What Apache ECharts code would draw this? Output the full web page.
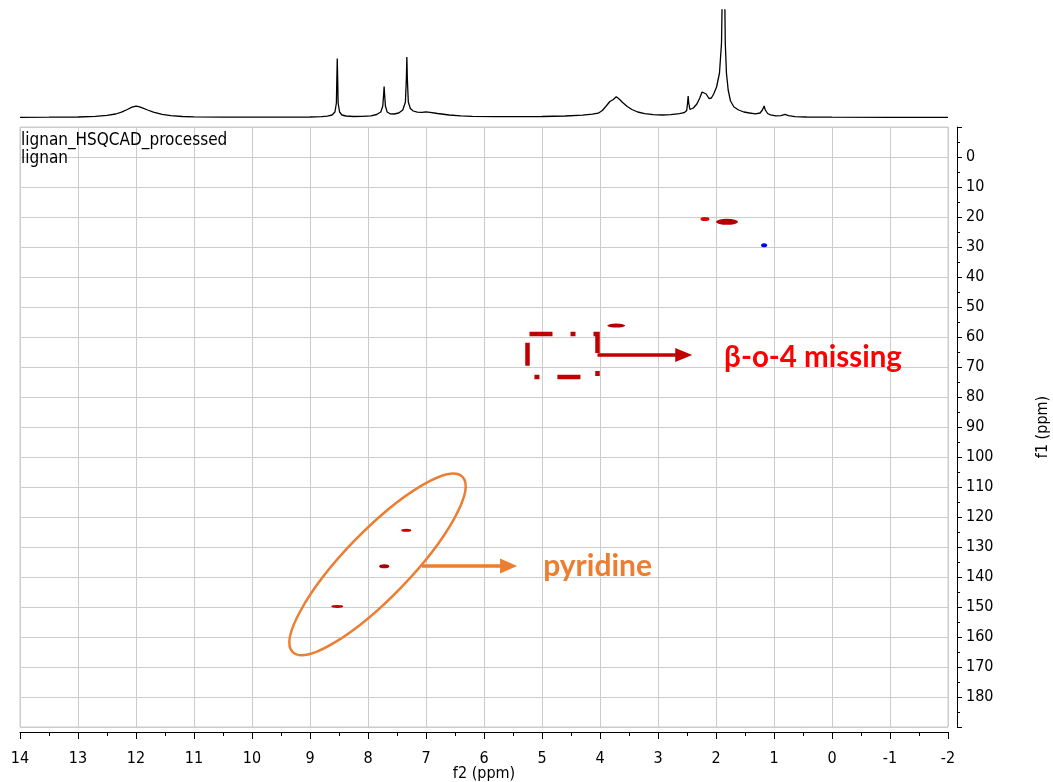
<!DOCTYPE html>
<html>
<head>
<meta charset="utf-8">
<script src="https://cdn.jsdelivr.net/npm/echarts@6/dist/echarts.min.js"></script>
<style>
  html, body { margin: 0; padding: 0; background: #ffffff; }
  #chart { width: 1053px; height: 782px; }
</style>
</head>
<body>
<div id="chart"></div>
<script>
// 1H projection along f2: chemical shift (ppm) and intensity above baseline
const protonPpm = [
  14.0, 13.5, 13.0, 12.7, 12.5, 12.35, 12.25, 12.15, 12.07, 12.0, 11.95, 11.88, 11.8, 11.7,
  11.55, 11.4, 11.2, 11.0, 10.5, 10.0, 9.5, 9.0, 8.8, 8.7, 8.62, 8.57, 8.545, 8.537, 8.53,
  8.523, 8.515, 8.49, 8.45, 8.38, 8.25, 8.1, 7.95, 7.85, 7.78, 7.745, 7.73, 7.722, 7.714,
  7.70, 7.67, 7.62, 7.55, 7.47, 7.40, 7.355, 7.338, 7.33, 7.322, 7.305, 7.27, 7.22, 7.15,
  7.07, 7.0, 6.93, 6.8, 6.6, 6.4, 6.2, 5.8, 5.3, 5.0, 4.6, 4.3, 4.13, 4.03, 3.96, 3.9,
  3.83, 3.8, 3.77, 3.72, 3.67, 3.61, 3.53, 3.45, 3.35, 3.23, 3.08, 2.93, 2.78, 2.63, 2.55,
  2.505, 2.49, 2.48, 2.47, 2.45, 2.39, 2.33, 2.28, 2.24, 2.21, 2.17, 2.12, 2.08, 2.04, 1.99,
  1.94, 1.905, 1.885, 1.87, 1.855, 1.84, 1.82, 1.79, 1.75, 1.69, 1.61, 1.52, 1.42, 1.32,
  1.24, 1.2, 1.17, 1.15, 1.11, 1.06, 0.97, 0.88, 0.81, 0.75, 0.64, 0.44, 0.0, -1.0, -2.0
];
const protonIntensity = [
  0.7, 0.8, 1.0, 1.6, 2.6, 4.0, 5.8, 8.5, 10.8, 11.8, 11.3, 9.8, 8.0, 5.8,
  3.6, 2.3, 1.5, 1.1, 0.9, 0.9, 0.9, 1.0, 1.3, 1.8, 3.0, 6.0, 15, 40, 59.5,
  40, 15, 6, 3.0, 2.0, 1.5, 1.6, 2.2, 3.5, 6, 12, 24, 31.5, 24,
  12, 6, 4.2, 4.0, 5.0, 8, 16, 40, 61, 40, 16, 9.5, 7, 5.8,
  5.7, 6.2, 5.6, 4.5, 3.0, 2.1, 1.6, 1.3, 1.3, 1.5, 2.0, 2.8, 3.8, 4.8, 7.5, 11.5,
  16.5, 17.5, 18.5, 21.3, 19, 15.5, 11.5, 8.5, 6, 4.4, 3.4, 3.0, 3.4, 4.3, 5.3,
  7.5, 15, 22, 15, 8.5, 10, 14, 20, 26, 28, 24, 19.5, 20, 24, 31,
  45, 75, 150, 300, 150, 75, 45, 28, 17, 11, 8, 6, 5, 4.2,
  5, 8, 12, 8, 4.5, 3.2, 2.2, 2.3, 3.6, 2.4, 1.4, 1.0, 0.8, 0.7, 0.7
];

// HSQC cross peaks: f2 = 1H shift, f1 = 13C shift (ppm); phase sign of each peak
const crossF2 = [2.19, 1.81, 1.17, 3.72, 7.34, 7.72, 8.53];
const crossF1 = [20.7, 21.6, 29.4, 56.2, 124.4, 136.4, 149.8];
const crossPhase = [1, 1, -1, 1, 1, 1, 1];

// axis ranges and tick labels
const f2Range = [-2, 14];
const f1Range = [-10, 190];
const f1TickLabels = [0, 10, 20, 30, 40, 50, 60, 70, 80, 90, 100, 110, 120, 130, 140, 150, 160, 170, 180];

// peak drawing styles (contour blob size in px, colour)
const crossSize = [[9, 4], [22, 6], [6, 4], [18, 4], [10, 3], [10, 4], [12, 3]];
const crossColor = ['#e00000', '#b00000', '#0000ff', '#b00000', '#c00000', '#a80000', '#b40000'];

const axisFont = "'DejaVu Sans Condensed', 'DejaVu Sans', sans-serif";
const noteFont = "Lato, 'Open Sans', sans-serif";
const gridColor = '#cccccc';

const chart = echarts.init(document.getElementById('chart'), null, { renderer: 'canvas' });

const spectrum = protonPpm.map((p, i) => [p, protonIntensity[i]]);
const crossPeaks = crossF2.map((p, i) => [p, crossF1[i]]);

chart.setOption({
  animation: false,
  backgroundColor: '#ffffff',
  title: {
    text: 'lignan_HSQCAD_processed\nlignan',
    left: 16,
    top: 127,
    textStyle: { fontFamily: axisFont, fontSize: 17, fontWeight: 'normal', color: '#000', lineHeight: 18 }
  },
  grid: [
    { left: 20, right: 105, top: 127, height: 600, show: true, borderColor: gridColor, borderWidth: 1,
      containLabel: false, outerBoundsMode: 'none' },
    { left: 20, right: 105, top: 10, height: 108, containLabel: false, outerBoundsMode: 'none' }
  ],
  xAxis: [
    {
      type: 'value', gridIndex: 0, min: f2Range[0], max: f2Range[1], interval: 1, inverse: true,
      position: 'bottom', offset: 5,
      axisLine: { show: true, onZero: false, lineStyle: { color: '#000', width: 1 } },
      axisTick: { show: true, length: 7, lineStyle: { color: '#000' } },
      minorTick: { show: true, splitNumber: 2, length: 4, lineStyle: { color: '#000' } },
      axisLabel: { margin: 19, fontSize: 16, color: '#000', fontFamily: axisFont },
      splitLine: { show: true, lineStyle: { color: gridColor, width: 1 } },
      name: 'f2 (ppm)', nameLocation: 'middle', nameGap: 34, nameMoveOverlap: false,
      nameTextStyle: { fontSize: 16, color: '#000', fontFamily: axisFont }
    },
    {
      type: 'value', gridIndex: 1, min: f2Range[0], max: f2Range[1], inverse: true, show: false
    }
  ],
  yAxis: [
    {
      type: 'value', gridIndex: 0, min: f1Range[0], max: f1Range[1], interval: 10, inverse: true,
      position: 'right', offset: 9,
      axisLine: { show: true, onZero: false, lineStyle: { color: '#000', width: 1 } },
      axisTick: { show: true, length: 5, lineStyle: { color: '#000' } },
      minorTick: { show: true, splitNumber: 2, length: 3, lineStyle: { color: '#000' } },
      axisLabel: {
        margin: 9, fontSize: 16, color: '#000', fontFamily: axisFont,
        formatter: v => (f1TickLabels.indexOf(v) >= 0 ? String(v) : '')
      },
      splitLine: { show: true, lineStyle: { color: gridColor, width: 1 } },
      name: 'f1 (ppm)', nameLocation: 'middle', nameGap: 78, nameRotate: 90, nameMoveOverlap: false,
      nameTextStyle: { fontSize: 16, color: '#000', fontFamily: axisFont }
    },
    {
      type: 'value', gridIndex: 1, min: 0, max: 108, show: false
    }
  ],
  series: [
    {
      type: 'line', xAxisIndex: 1, yAxisIndex: 1, data: spectrum,
      showSymbol: false, symbol: 'none', smooth: false, clip: true,
      lineStyle: { color: '#000', width: 1.3 }
    },
    {
      type: 'scatter', xAxisIndex: 0, yAxisIndex: 0, data: crossPeaks,
      symbol: 'circle',
      symbolSize: (val, params) => crossSize[params.dataIndex],
      itemStyle: { color: params => crossColor[params.dataIndex], opacity: 1 }
    }
  ]
});

// Annotations, anchored in (f2, f1) ppm coordinates
const px = (f2, f1) => chart.convertToPixel({ gridIndex: 0 }, [f2, f1]);

function arrow(from, to, color, width, headLen, headHalf) {
  const a = px(from[0], from[1]);
  const b = px(to[0], to[1]);
  return [
    { type: 'line', shape: { x1: a[0], y1: a[1], x2: b[0] - headLen + 1, y2: b[1] },
      style: { stroke: color, lineWidth: width }, silent: true },
    { type: 'polygon', shape: { points: [[b[0] - headLen, b[1] - headHalf], [b[0], b[1]], [b[0] - headLen, b[1] + headHalf]] },
      style: { fill: color }, silent: true }
  ];
}

const boxA = px(5.25, 59.0);
const boxB = px(4.043, 73.3);
const ellC = px(7.836, 135.8);
const redText = px(1.86, 66.7);
const orangeText = px(4.98, 136.3);

chart.setOption({
  graphic: [
    {
      type: 'rect',
      shape: { x: boxA[0], y: boxA[1], width: boxB[0] - boxA[0], height: boxB[1] - boxA[1] },
      style: { fill: 'none', stroke: '#c00000', lineWidth: 4.5, lineDash: [23, 18, 5, 18], lineDashOffset: 62 },
      silent: true
    },
    ...arrow([4.043, 66.0], [2.41, 66.0], '#c00000', 3.3, 17, 7),
    {
      type: 'text',
      style: { text: 'β-o-4 missing', x: redText[0], y: redText[1], fill: '#ff0000',
        fontFamily: noteFont, fontWeight: 'bold', fontSize: 29.5, align: 'left', verticalAlign: 'middle' },
      silent: true
    },
    {
      type: 'ellipse', x: ellC[0], y: ellC[1], rotation: 46 * Math.PI / 180,
      shape: { cx: 0, cy: 0, rx: 122, ry: 33 },
      style: { fill: 'none', stroke: '#ed7d31', lineWidth: 2.5 },
      silent: true
    },
    ...arrow([7.07, 136.3], [5.43, 136.3], '#ed7d31', 3.5, 17, 7.5),
    {
      type: 'text',
      style: { text: 'pyridine', x: orangeText[0], y: orangeText[1], fill: '#ed7d31',
        fontFamily: noteFont, fontWeight: 'bold', fontSize: 30, align: 'left', verticalAlign: 'middle' },
      silent: true
    }
  ]
});
</script>
</body>
</html>
